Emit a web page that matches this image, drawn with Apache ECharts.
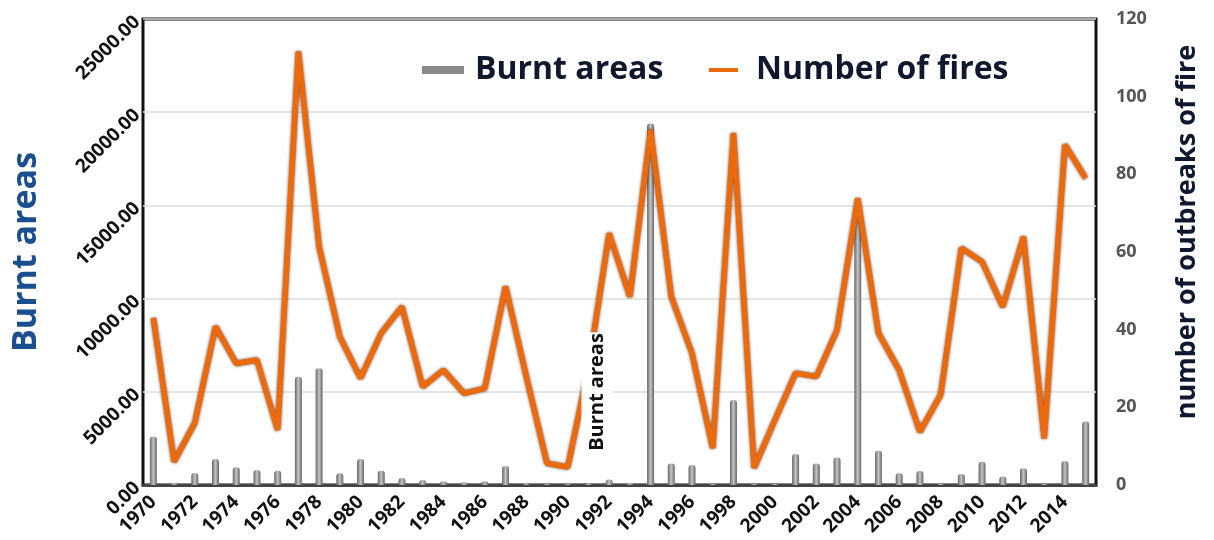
<!DOCTYPE html>
<html><head><meta charset="utf-8">
<script src="https://cdn.jsdelivr.net/npm/echarts@6/dist/echarts.min.js"></script>
<style>html,body{margin:0;padding:0;background:#fff}#c{width:1214px;height:540px}</style>
</head><body><div id="c"></div>
<script>
const years = [];
for (let y = 1970; y <= 2015; y++) years.push(String(y));
const burntAreas = [2600,100,650,1400,950,800,770,5810,6260,630,
  1400,770,380,270,200,150,200,1020,100,50,
  50,100,300,100,19400,1160,1070,50,4560,50,
  50,1660,1160,1480,14200,1840,630,750,50,590,
  1250,450,900,50,1290,3400];
const numberOfFires = [43,6,16,40.8,31.3,32.2,14.2,111.6,61.4,38.2,
  27.5,39.1,45.9,25.3,29.6,23.6,24.9,51.1,28,5.6,
  4.6,30,64.8,48.5,91.4,48.5,33.9,9.5,90.6,4.4,
  16.7,28.8,27.9,39.9,73.8,39.1,29.6,13.7,23.2,61,
  57.5,45.9,63.9,12,87.6,79];
const leftTicks = {min:0, max:25000, interval:5000};
const rightTicks = {min:0, max:120, interval:20};

const chart = echarts.init(document.getElementById('c'));
const F = 'Open Sans';
chart.setOption({
  animation:false,
  grid:{left:143,right:118,top:19,bottom:55,show:true,borderColor:'#111',borderWidth:3,backgroundColor:'transparent'},
  legend:[{
    left:417, top:49, itemWidth:42, itemHeight:8,
    data:[{name:'Burnt areas', icon:'rect', itemStyle:{color:'#8a8a8a'}}],
    textStyle:{fontFamily:F, fontWeight:'bold', fontSize:32, color:'#101830', padding:[0,0,0,6]}
  },{
    left:704, top:49, itemWidth:29, itemHeight:4,
    data:[{name:'Number of fires', icon:'rect'}],
    textStyle:{fontFamily:F, fontWeight:'bold', fontSize:32, color:'#101830', padding:[0,0,0,13]}
  }],
  xAxis:{
    type:'category', data:years, boundaryGap:true,
    axisLine:{lineStyle:{color:'#444',width:3}},
    axisTick:{show:false},
    axisLabel:{interval:1, rotate:45, margin:14, fontFamily:F, fontWeight:'bold', fontSize:19, color:'#111'}
  },
  yAxis:[{
    type:'value', min:leftTicks.min, max:leftTicks.max, interval:leftTicks.interval,
    name:'Burnt areas', nameLocation:'middle', nameGap:100, nameRotate:90,
    nameTextStyle:{fontFamily:F, fontWeight:'bold', fontSize:34, color:'#1a4f8f'},
    axisLine:{show:false}, axisTick:{show:false},
    axisLabel:{rotate:45, margin:6, fontFamily:F, fontWeight:'bold', fontSize:19, color:'#111',
      formatter:v=>v.toFixed(2)},
    splitLine:{lineStyle:{color:'#dcdcdc',width:1.5}}
  },{
    type:'value', min:rightTicks.min, max:rightTicks.max, interval:rightTicks.interval,
    name:'number of outbreaks of fire', nameLocation:'middle', nameGap:78, nameRotate:90,
    nameTextStyle:{fontFamily:F, fontWeight:'bold', fontSize:27, color:'#101830', padding:[0,0,0,40]},
    axisLine:{show:false}, axisTick:{show:false},
    axisLabel:{margin:20, fontFamily:F, fontWeight:'bold', fontSize:18, color:'#555'},
    splitLine:{show:false}
  }],
  series:[{
    name:'Burnt areas', type:'bar', yAxisIndex:0, data:burntAreas, barWidth:7,
    itemStyle:{
      color:new echarts.graphic.LinearGradient(0,0,1,0,[
        {offset:0,color:'#666'},{offset:0.5,color:'#c4c4c4'},{offset:1,color:'#666'}]),
      borderRadius:[3,3,0,0]
    },
    z:2
  },{
    name:'Number of fires', type:'line', yAxisIndex:1, data:numberOfFires,
    symbol:'none', itemStyle:{color:'#ec6a0e'},
    lineStyle:{color:'#ec6a0e', width:5.5, shadowColor:'rgba(70,25,0,0.85)', shadowBlur:3},
    z:3
  }],
  graphic:[{
    type:'text', x:597, y:392, rotation:Math.PI/2, z:100,
    style:{text:'Burnt areas', fontFamily:F, fontWeight:'bold', fontSize:20, fill:'#111',
      align:'center', verticalAlign:'middle', backgroundColor:'#fff', padding:[2,1,9,1]}
  }]
});
</script></body></html>
